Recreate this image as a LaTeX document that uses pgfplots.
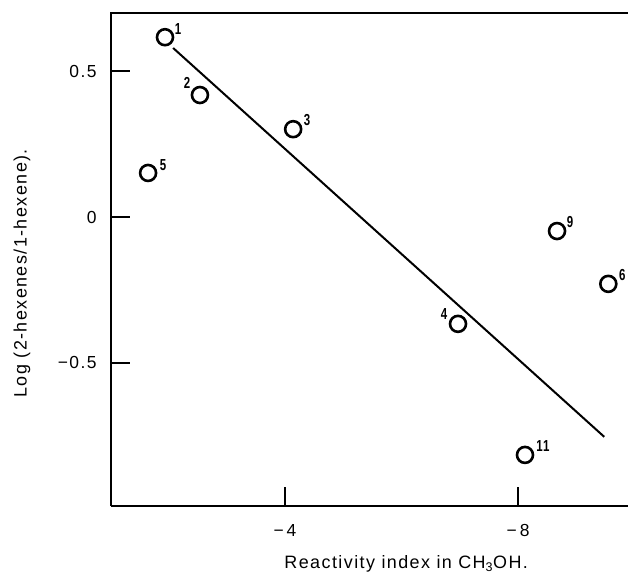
\documentclass[border=0pt]{standalone}
\usepackage{fontspec}
\setmainfont{Liberation Sans}[LetterSpace=8]
\usepackage{graphicx}
\usepackage{pgfplots}
\pgfplotsset{compat=1.18}
\newcommand{\pl}[1]{\scalebox{0.72}[1]{\bfseries\fontsize{16}{16}\selectfont #1}}
\begin{document}
\begin{tikzpicture}
\begin{axis}[
  scale only axis,
  width=517bp, height=493bp,
  x dir=reverse,
  xmin=-9.888, xmax=-1.013,
  ymin=-0.99, ymax=0.699,
  clip=false,
  axis line style={draw=none},
  xtick={-4,-8}, xticklabels={−\hspace{3bp}4, −\hspace{3bp}8},
  ytick={-0.5,0,0.5}, yticklabels={−0.5, 0, 0.5},
  xtick pos=bottom, ytick pos=left,
  tick align=inside,
  major tick length=19bp,
  every tick/.style={black, line width=1.5bp},
  xticklabel style={font=\fontsize{17.5}{19}\selectfont, yshift=-15bp},
  yticklabel style={font=\fontsize{17.5}{19}\selectfont, xshift=-11bp},
  every axis x label/.style={at={(axis description cs:0.571,-0.127)}, anchor=base, font=\fontsize{18}{20}\selectfont},
  every axis y label/.style={at={(axis description cs:-0.172,0.472)}, anchor=center, rotate=90, font=\fontsize{18}{20}\selectfont},
  xlabel={Reactivity index in CH\textsubscript{3}OH.},
  ylabel={Log (2-hexenes/1-hexene).},
]
\draw[line width=1.8bp] (axis description cs:0,0) -- (axis description cs:0,1) -- (axis description cs:1,1);
\draw[line width=1.8bp] (axis description cs:0,0) -- (axis description cs:1,0);
\addplot[black, line width=2bp, no marks] coordinates {(-2.08,0.579) (-9.48,-0.753)};
\addplot[only marks, mark=o, mark size=8bp, mark options={line width=2.6bp, black}] coordinates {
(-1.94,0.616) (-2.54,0.418) (-4.14,0.301) (-1.65,0.151) (-6.97,-0.366) (-8.67,-0.048) (-9.55,-0.229) (-8.12,-0.815)};
\begin{scope}[every node/.style={inner sep=0pt}]
\node at (axis cs:-1.94,0.616) [xshift=13bp, yshift=8bp] {\pl{1}};
\node at (axis cs:-2.54,0.418) [xshift=-13bp, yshift=12bp] {\pl{2}};
\node at (axis cs:-4.14,0.301) [xshift=14bp, yshift=9bp] {\pl{3}};
\node at (axis cs:-1.65,0.151) [xshift=15bp, yshift=8bp] {\pl{5}};
\node at (axis cs:-6.97,-0.366) [xshift=-14bp, yshift=10bp] {\pl{4}};
\node at (axis cs:-8.67,-0.048) [xshift=13bp, yshift=9bp] {\pl{9}};
\node at (axis cs:-9.55,-0.229) [xshift=14bp, yshift=9bp] {\pl{6}};
\node at (axis cs:-8.12,-0.815) [xshift=18bp, yshift=9bp] {\pl{11}};
\end{scope}
\end{axis}
\pgfresetboundingbox
\useasboundingbox (-111bp,-70bp) rectangle (517bp,506bp);
\end{tikzpicture}
\end{document}
